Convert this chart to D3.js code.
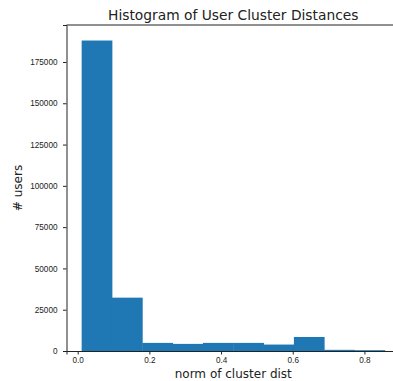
<!DOCTYPE html>
<html>
<head>
<meta charset="utf-8">
<script src="https://cdn.jsdelivr.net/npm/d3@7"></script>
<style>
  body { margin: 0; background: #fff; }
  svg { display: block; font-family: "DejaVu Sans", sans-serif; }
  .tick text { font-size: 8.2px; fill: #222; }
  .domain, .tick line { stroke: #222; }
</style>
</head>
<body>
<svg id="chart"></svg>
<script>
// histogram bins (10 equal bins between min and max distance)
const binMin = 0.011;
const binMax = 0.857;
const counts = [188000, 32300, 4900, 4300, 4900, 4900, 3900, 8500, 700, 500];
const xTicks = [0.0, 0.2, 0.4, 0.6, 0.8];
const yTicks = [0, 25000, 50000, 75000, 100000, 125000, 150000, 175000];

const width = 393, height = 381;
const margin = {top: 25, right: -7, bottom: 30, left: 66.5};

const svg = d3.select('#chart')
    .attr('width', width)
    .attr('height', height);

const innerW = width - margin.left - margin.right;
const innerH = height - margin.top - margin.bottom;

const binW = (binMax - binMin) / counts.length;
const bins = counts.map((c, i) => ({x0: binMin + i * binW, x1: binMin + (i + 1) * binW, count: c}));

// matplotlib style 5% margins on x, 5% headroom on y
const pad = (binMax - binMin) * 0.05;
const x = d3.scaleLinear()
    .domain([binMin - pad, binMax + pad])
    .range([0, innerW]);
const y = d3.scaleLinear()
    .domain([0, d3.max(counts) * 1.05])
    .range([innerH, 0]);

const chart = svg.append('g')
    .attr('transform', `translate(${margin.left},${margin.top})`);

chart.selectAll('.bar')
    .data(bins)
    .join('rect')
    .attr('class', 'bar')
    .attr('x', d => x(d.x0))
    .attr('width', d => x(d.x1) - x(d.x0) + 0.4)
    .attr('y', d => y(d.count))
    .attr('height', d => y(0) - y(d.count))
    .attr('fill', '#1f77b4');

// axes
chart.append('g')
    .attr('transform', `translate(0,${innerH})`)
    .call(d3.axisBottom(x).tickValues(xTicks).tickFormat(d3.format('.1f')).tickSizeOuter(0).tickSize(3.5).tickPadding(3));
chart.append('g')
    .call(d3.axisLeft(y).tickValues(yTicks).tickFormat(d3.format('d')).tickSizeOuter(0).tickSize(3.5).tickPadding(5.5));

// top and right spines
chart.append('line')
    .attr('x1', 0).attr('x2', innerW).attr('y1', 0).attr('y2', 0)
    .attr('stroke', '#222');
chart.append('line')
    .attr('x1', innerW).attr('x2', innerW).attr('y1', 0).attr('y2', innerH)
    .attr('stroke', '#222');

// labels
svg.append('text')
    .attr('x', margin.left + innerW / 2)
    .attr('y', 19.5)
    .attr('text-anchor', 'middle')
    .attr('font-size', 13.8)
    .attr('fill', '#222')
    .text('Histogram of User Cluster Distances');

svg.append('text')
    .attr('x', margin.left + innerW / 2)
    .attr('y', 378)
    .attr('text-anchor', 'middle')
    .attr('font-size', 12)
    .attr('fill', '#222')
    .text('norm of cluster dist');

svg.append('text')
    .attr('transform', `translate(21.5,${margin.top + innerH / 2}) rotate(-90)`)
    .attr('text-anchor', 'middle')
    .attr('font-size', 12)
    .attr('fill', '#222')
    .text('# users');
</script>
</body>
</html>
